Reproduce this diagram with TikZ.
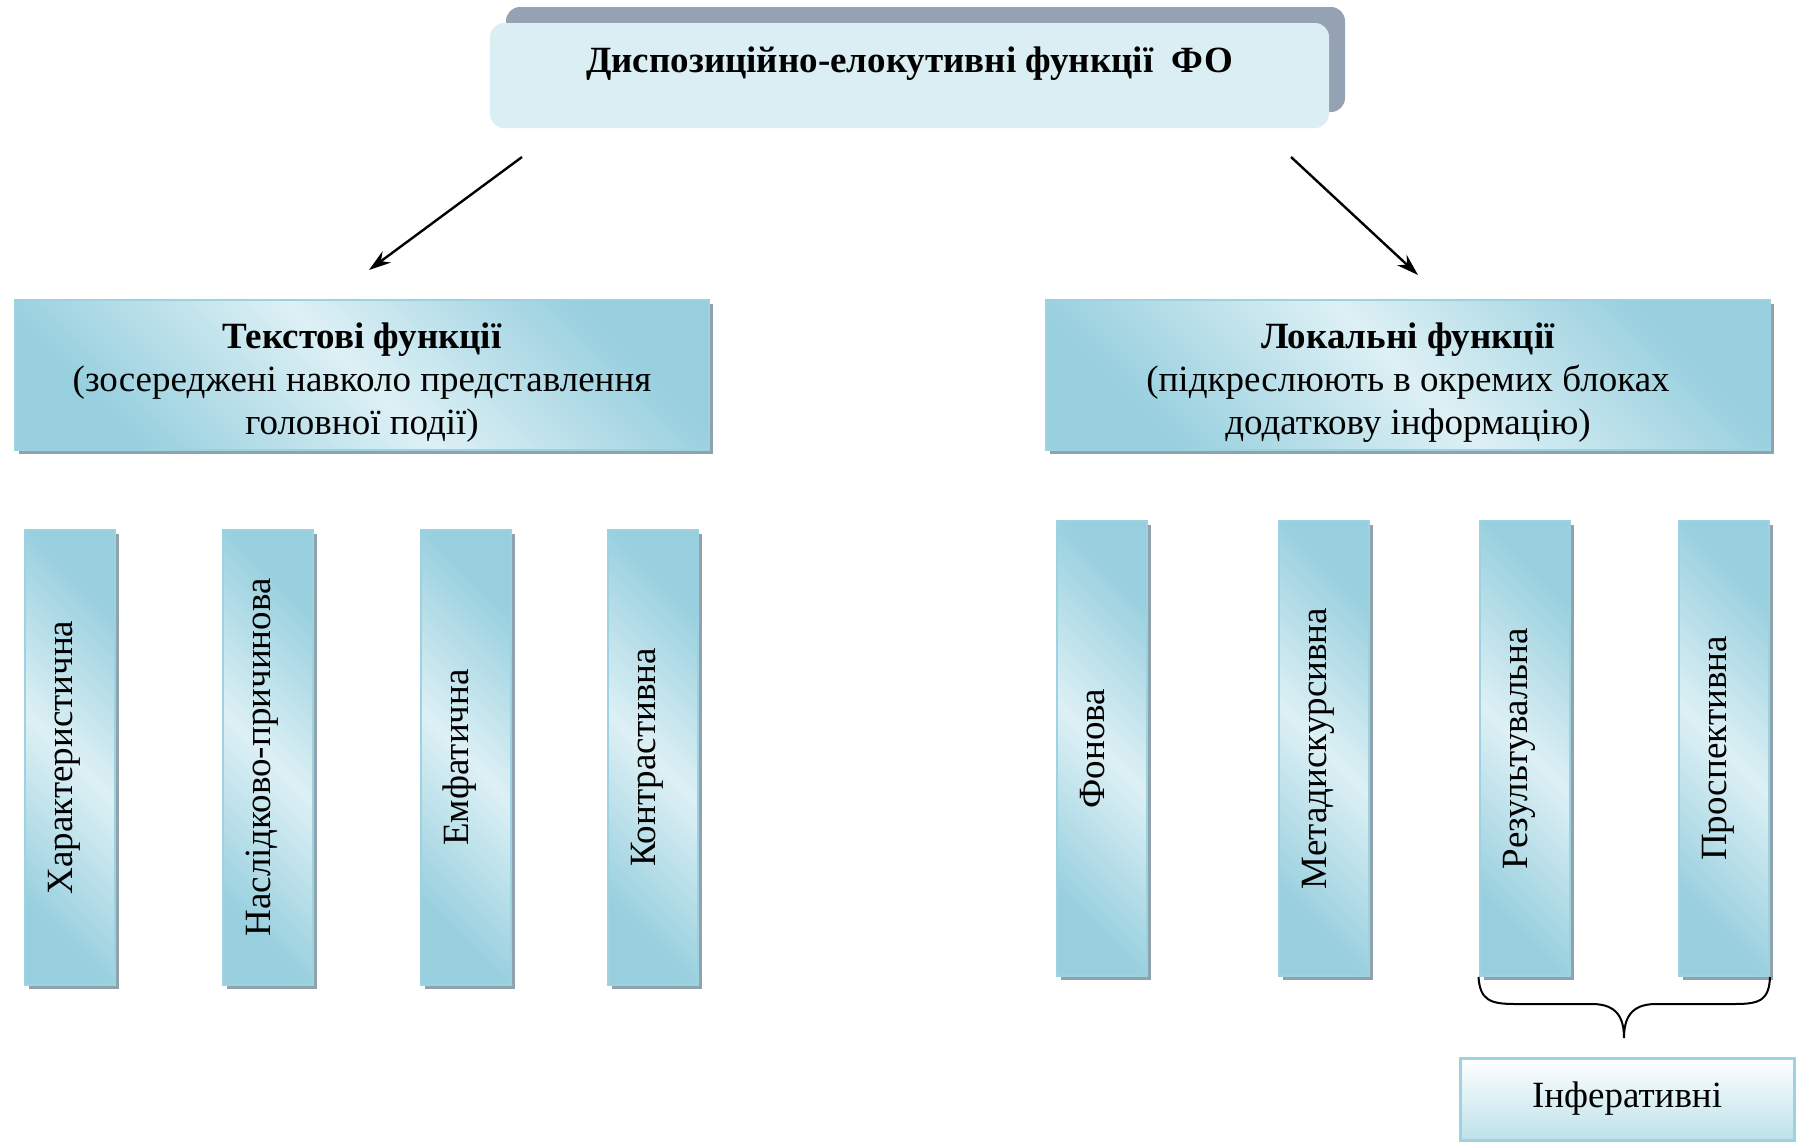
\documentclass[tikz,border=0pt]{standalone}
\usepackage{fontspec}
\setmainfont{Liberation Serif}
\usetikzlibrary{shadows,arrows.meta}
\definecolor{lightaqua}{HTML}{DDF0F5}
\definecolor{midaqua}{HTML}{97CFDE}
\definecolor{boxborder}{HTML}{9DD3E0}
\definecolor{shadowgray}{HTML}{8FA3AF}
\definecolor{topback}{HTML}{94A2B3}
\definecolor{topfront}{HTML}{DBEEF3}
\definecolor{infbottom}{HTML}{BCE1EA}
\newcommand{\vtext}[1]{\hspace{5pt}\rotatebox{90}{\smash{#1}}}
\begin{document}
\begin{tikzpicture}[x=1pt,y=-1pt,
  txt/.style={font=\fontsize{37}{43}\selectfont},
  box/.style={txt, draw=boxborder, line width=2pt,
    left color=midaqua, right color=midaqua, middle color=lightaqua, shading angle=135,
    drop shadow={shadow xshift=4pt, shadow yshift=-4pt, fill=shadowgray, opacity=1},
    inner sep=0pt, align=center},
  vbox/.style={box, minimum width=90pt, minimum height=455pt},
  topbox/.style={txt, fill=topfront, rounded corners=14pt, inner sep=0pt,
    drop shadow={shadow xshift=16pt, shadow yshift=16pt, fill=topback, opacity=1}},
  infbox/.style={txt, draw=boxborder, line width=3pt, top color=white, bottom color=infbottom, inner sep=0pt},
  arr/.style={line width=2.4pt, -{Stealth[length=22pt,width=14pt]}},
  bracestyle/.style={line width=2pt}
]
\useasboundingbox (0,0) rectangle (1796,1141);

% top
\node[topbox, minimum width=839pt, text height=49pt, text depth=56pt] (title) at (909.5,75.5)
  {\bfseries Диспозиційно-елокутивні функції\ \ ФО};

% second level
\node[box, minimum width=694pt, minimum height=150pt] (textf) at (362,375)
  {\rule{0pt}{40pt}{\bfseries Текстові функції}\\(зосереджені навколо представлення\\головної події)};
\node[box, minimum width=724pt, minimum height=150pt] (localf) at (1408,375)
  {\rule{0pt}{40pt}{\bfseries Локальні функції}\\(підкреслюють в окремих блоках\\додаткову інформацію)};

% arrows
\coordinate (a1s) at (522,157);
\coordinate (a1e) at (369,270);
\coordinate (a2s) at (1291,157);
\coordinate (a2e) at (1418,275);
\draw[arr] (a1s) -- (a1e);
\draw[arr] (a2s) -- (a2e);

% left verticals
\node[vbox] (char) at (70,757.5) {\vtext{Характеристична}};
\node[vbox] (nasl) at (268,757.5) {\vtext{Наслідково-причинова}};
\node[vbox] (emf) at (466,757.5) {\vtext{Емфатична}};
\node[vbox] (kontr) at (653,757.5) {\vtext{Контрастивна}};

% right verticals
\node[vbox] (fon) at (1102,748.5) {\vtext{Фонова}};
\node[vbox] (meta) at (1324,748.5) {\vtext{Метадискурсивна}};
\node[vbox] (res) at (1524.5,748.5) {\vtext{Результувальна}};
\node[vbox] (prosp) at (1724,748.5) {\vtext{Проспективна}};

% brace
\coordinate (bracetip) at (1624,1038);
\draw[bracestyle] (res.south west) .. controls (1480,1000) and (1490,1004) .. (1515,1004)
  -- (1592,1004) .. controls (1617,1004) and (1624,1018) .. (bracetip)
  .. controls (1624,1018) and (1631,1004) .. (1656,1004)
  -- (1735,1004) .. controls (1760,1004) and (1769,1000) .. (prosp.south east);

% inferative
\node[infbox, minimum width=334pt, minimum height=82pt] (inf) at (1627,1099) {Інферативні};
\end{tikzpicture}
\end{document}
